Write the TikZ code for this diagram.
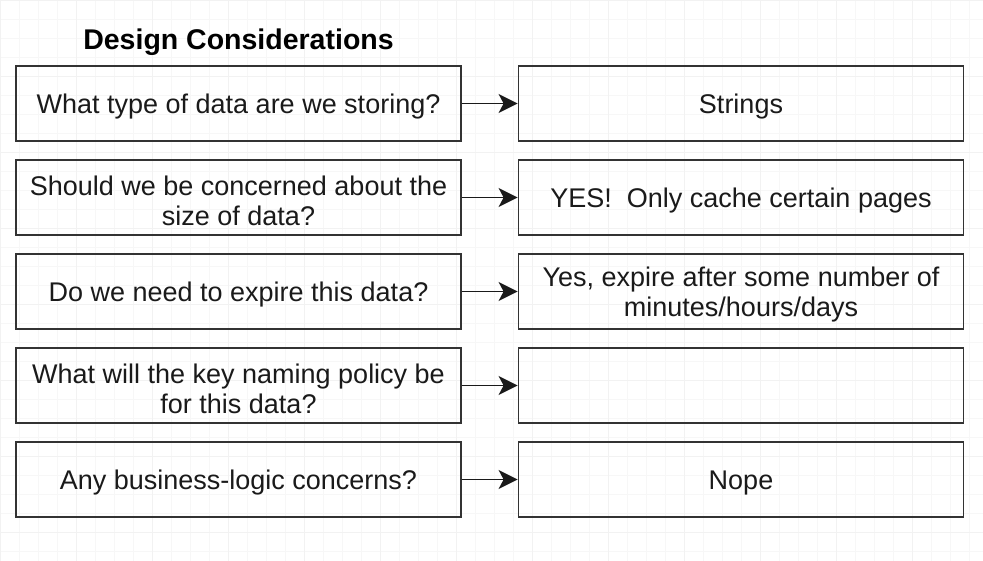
\documentclass[tikz,border=0pt]{standalone}
\usepackage{fontspec}
\setmainfont{Liberation Sans}
\usetikzlibrary{arrows.meta}
\definecolor{ink}{HTML}{1A1A1A}
\definecolor{edge}{HTML}{333333}
\begin{document}
\begin{tikzpicture}[x=1pt,y=-1pt,
  qbox/.style={draw=edge,line width=1.8pt,minimum width=445pt,minimum height=75pt,inner sep=0pt},
  qtext/.style={inner sep=0pt,align=center,text=ink,font=\fontsize{27}{30}\selectfont},
  link/.style={draw=ink,line width=1.6pt,-{Stealth[length=19pt,width=19pt,inset=5pt]}}]
\useasboundingbox (0,0) rectangle (983,561);
\fill[white] (0,0) rectangle (983,561);
\draw[black!3,line width=0.6pt,step=19pt] (0,0) grid (983,561);
\draw[black!5,line width=0.8pt,step=76pt] (0,0) grid (983,561);
\node[font=\bfseries\fontsize{28.5}{32}\selectfont,text=black] (title) at (238.5,42) {Design Considerations};
\node[qbox] (q1) at (238.5,103.5) {};
\node[qbox] (q2) at (238.5,197.5) {};
\node[qbox] (q3) at (238.5,291.5) {};
\node[qbox] (q4) at (238.5,385.5) {};
\node[qbox] (q5) at (238.5,479.5) {};
\node[qbox] (a1) at (741,103.5) {};
\node[qbox] (a2) at (741,197.5) {};
\node[qbox] (a3) at (741,291.5) {};
\node[qbox] (a4) at (741,385.5) {};
\node[qbox] (a5) at (741,479.5) {};
\node[qtext] (tq1) at ([yshift=-3.5pt]q1.center) {What type of data are we storing?};
\node[qtext] (tq2) at ([yshift=-3.5pt]q2.center) {Should we be concerned about the\\size of data?};
\node[qtext] (tq3) at ([yshift=-3.5pt]q3.center) {Do we need to expire this data?};
\node[qtext] (tq4) at ([yshift=-3.5pt]q4.center) {What will the key naming policy be\\for this data?};
\node[qtext] (tq5) at ([yshift=-3.5pt]q5.center) {Any business-logic concerns?};
\node[qtext] (ta1) at ([yshift=-3.5pt]a1.center) {Strings};
\node[qtext] (ta2) at ([yshift=-3.5pt]a2.center) {YES!\ \ Only cache certain pages};
\node[qtext] (ta3) at ([yshift=-3.5pt]a3.center) {Yes, expire after some number of\\minutes/hours/days};
\node[qtext] (ta5) at ([yshift=-3.5pt]a5.center) {Nope};
\foreach \i in {1,...,5}{\draw[link] (q\i.east) -- (a\i.west);}
\end{tikzpicture}
\end{document}
